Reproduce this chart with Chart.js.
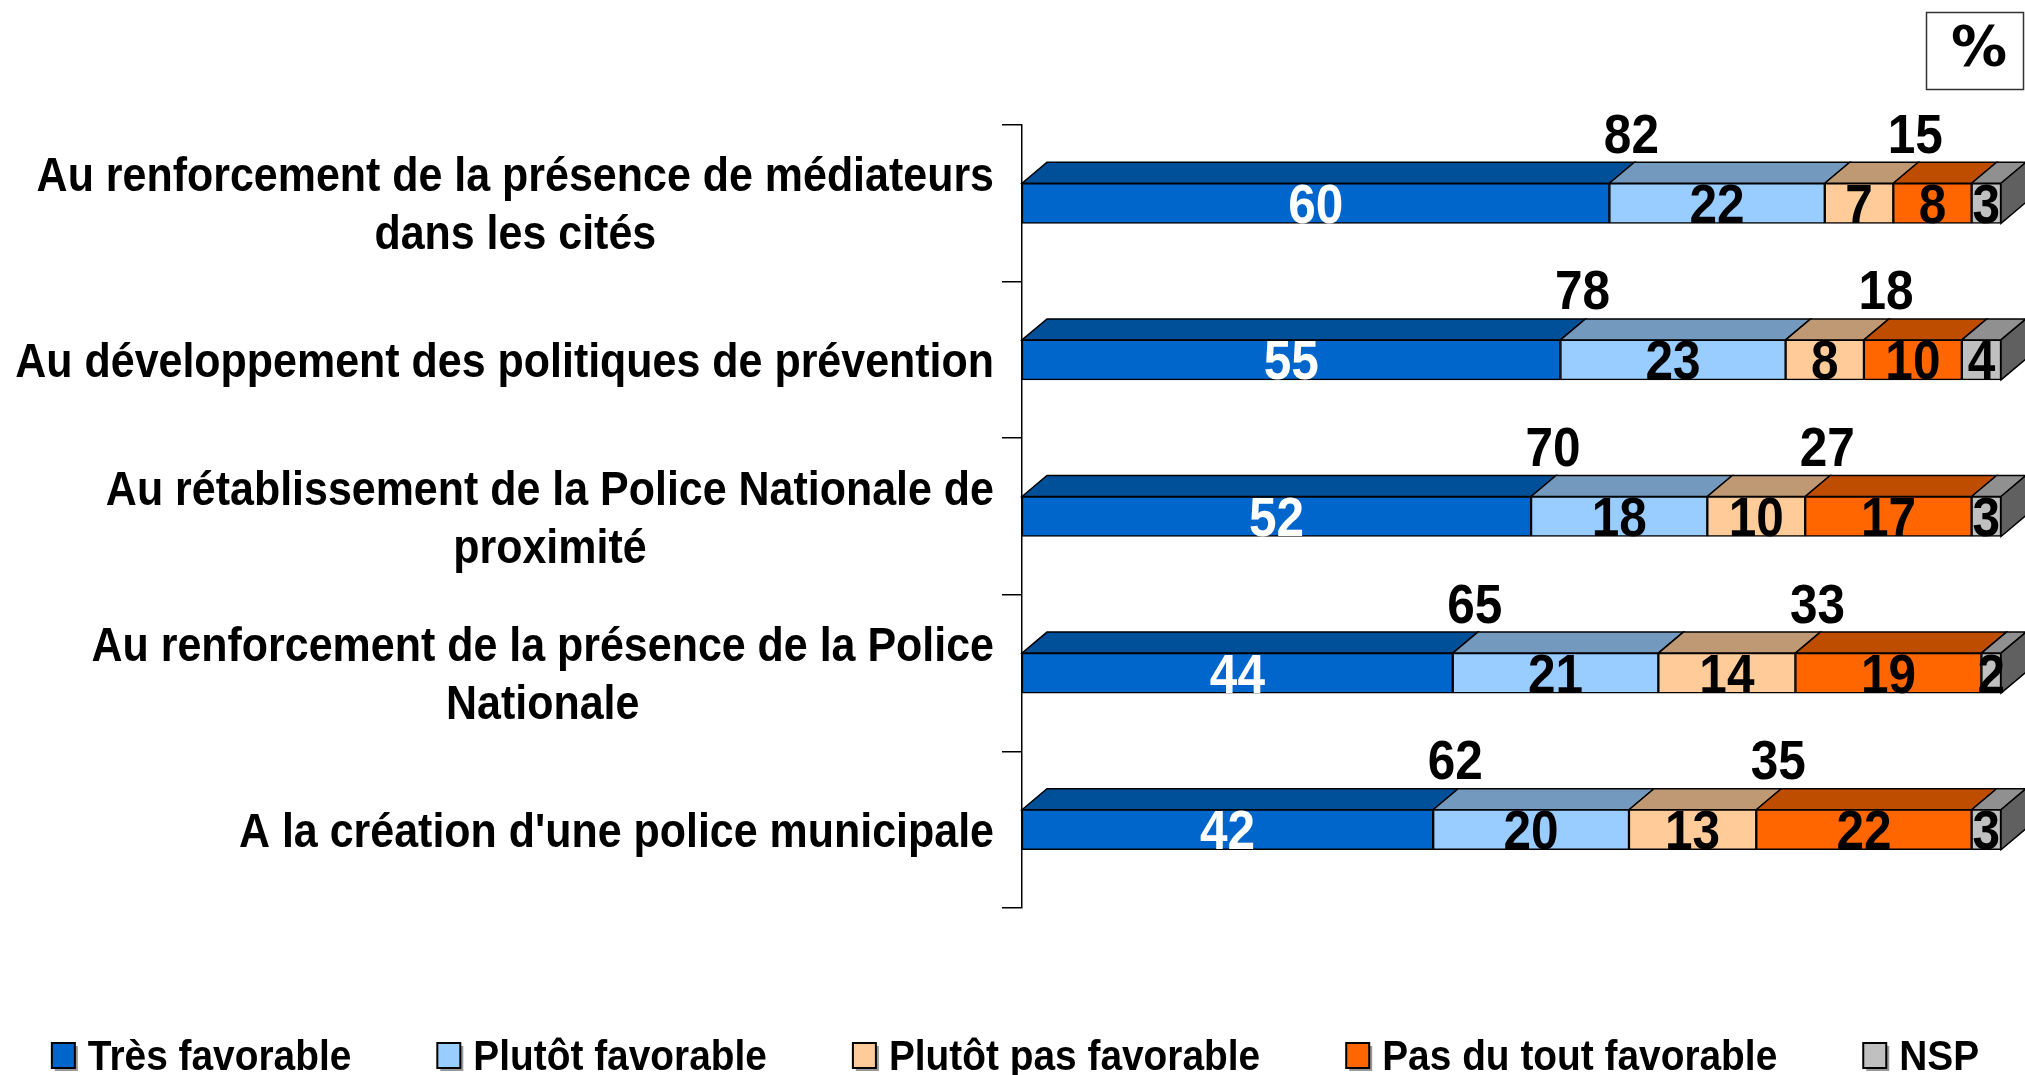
<!DOCTYPE html>
<html lang="fr">
<head>
<meta charset="utf-8">
<title>Favorable ou défavorable</title>
<script src="https://cdn.jsdelivr.net/npm/chart.js@4.4.1/dist/chart.umd.min.js"></script>
<style>
  html, body { margin: 0; padding: 0; background: #fff; }
  #graphique { display: block; }
</style>
</head>
<body>
<canvas id="graphique" width="2025" height="1075"></canvas>
<script>
// Catégories (une ligne par élément du tableau)
const categories = [
  ['Au renforcement de la présence de médiateurs', 'dans les cités'],
  ['Au développement des politiques de prévention'],
  ['Au rétablissement de la Police Nationale de', 'proximité'],
  ['Au renforcement de la présence de la Police', 'Nationale'],
  ["A la création d'une police municipale"]
];

// Séries (%)
const tresFavorable = [60, 55, 52, 44, 42];
const plutotFavorable = [22, 23, 18, 21, 20];
const plutotPasFavorable = [7, 8, 10, 14, 13];
const pasDuToutFavorable = [8, 10, 17, 19, 22];
const nsp = [3, 4, 3, 2, 3];

// Totaux affichés au-dessus des barres
const totalFavorable = [82, 78, 70, 65, 62];
const totalPasFavorable = [15, 18, 27, 33, 35];

const nomsSeries = ['Très favorable', 'Plutôt favorable', 'Plutôt pas favorable', 'Pas du tout favorable', 'NSP'];

// Couleurs : face avant, face du dessus
const couleursFace = ['#0066CC', '#99CCFF', '#FFCC99', '#FF6600', '#C0C0C0'];
const couleursDessus = ['#004F99', '#7399BF', '#BF9973', '#BF4D00', '#909090'];
const couleurCote = '#606060';
const couleursTexte = ['#FFFFFF', '#000000', '#000000', '#000000', '#000000'];

// Profondeur de l'effet 3D
const profX = 25;
const profY = 21;

const police = '"Liberation Sans", Arial, sans-serif';

// Texte avec compression horizontale
function texteEtroit(ctx, txt, x, y, echelle) {
  ctx.save();
  ctx.translate(x, y);
  ctx.scale(echelle, 1);
  ctx.fillText(txt, 0, 0);
  ctx.restore();
}

function rectBarre(bar) {
  const p = bar.getProps(['x', 'y', 'base', 'height'], true);
  return {
    gauche: Math.min(p.x, p.base),
    droite: Math.max(p.x, p.base),
    haut: p.y - p.height / 2,
    bas: p.y + p.height / 2,
    centreY: p.y
  };
}

// Faces du dessus et côté droit
const plugin3D = {
  id: 'plugin3D',
  beforeDatasetsDraw(chart) {
    const ctx = chart.ctx;
    ctx.save();
    ctx.lineWidth = 1.5;
    ctx.strokeStyle = '#000';
    chart.data.datasets.forEach((ds, i) => {
      const meta = chart.getDatasetMeta(i);
      meta.data.forEach((bar) => {
        const r = rectBarre(bar);
        ctx.beginPath();
        ctx.moveTo(r.gauche, r.haut);
        ctx.lineTo(r.gauche + profX, r.haut - profY);
        ctx.lineTo(r.droite + profX, r.haut - profY);
        ctx.lineTo(r.droite, r.haut);
        ctx.closePath();
        ctx.fillStyle = couleursDessus[i];
        ctx.fill();
        ctx.stroke();

        // côté droit seulement pour la dernière série
        if (i === chart.data.datasets.length - 1) {
          ctx.beginPath();
          ctx.moveTo(r.droite, r.haut);
          ctx.lineTo(r.droite + profX, r.haut - profY);
          ctx.lineTo(r.droite + profX, r.bas - profY);
          ctx.lineTo(r.droite, r.bas);
          ctx.closePath();
          ctx.fillStyle = couleurCote;
          ctx.fill();
          ctx.stroke();
        }
      });
    });
    ctx.restore();
  },

  afterDatasetsDraw(chart) {
    const ctx = chart.ctx;
    const echX = chart.scales.x;
    const taille = 55;
    const echNum = 0.9;
    ctx.save();
    ctx.font = 'bold ' + taille + 'px ' + police;
    ctx.textAlign = 'center';
    ctx.textBaseline = 'alphabetic';

    // valeurs dans les segments
    chart.data.datasets.forEach((ds, i) => {
      const meta = chart.getDatasetMeta(i);
      meta.data.forEach((bar, j) => {
        const r = rectBarre(bar);
        ctx.fillStyle = couleursTexte[i];
        texteEtroit(ctx, String(ds.data[j]), (r.gauche + r.droite) / 2, r.centreY + taille * 0.355, echNum);
      });
    });

    // totaux au-dessus
    ctx.fillStyle = '#000';
    const meta0 = chart.getDatasetMeta(0);
    meta0.data.forEach((bar, j) => {
      const y = bar.y - 70 + taille * 0.355;
      const xFav = echX.getPixelForValue(tresFavorable[j]) + 22;
      const cumul = tresFavorable[j] + plutotFavorable[j] + plutotPasFavorable[j];
      const xPas = echX.getPixelForValue(cumul) + 22;
      texteEtroit(ctx, String(totalFavorable[j]), xFav, y, echNum);
      texteEtroit(ctx, String(totalPasFavorable[j]), xPas, y, echNum);
    });
    ctx.restore();
  },

  afterDraw(chart) {
    const ctx = chart.ctx;
    const echY = chart.scales.y;

    // libellés des catégories : bloc aligné à droite, lignes centrées
    const tailleCat = 48;
    const echCat = 0.895;
    const interligne = 58;
    const bordDroit = echY.right - 28;
    ctx.save();
    ctx.font = 'bold ' + tailleCat + 'px ' + police;
    ctx.fillStyle = '#000';
    ctx.textAlign = 'center';
    ctx.textBaseline = 'alphabetic';
    categories.forEach((lignes, j) => {
      const cy = echY.getPixelForValue(j);
      let largeur = 0;
      lignes.forEach((l) => { largeur = Math.max(largeur, ctx.measureText(l).width * echCat); });
      const cx = bordDroit - largeur / 2;
      const y0 = cy - (lignes.length - 1) * interligne / 2;
      lignes.forEach((l, k) => {
        texteEtroit(ctx, l, cx, y0 + k * interligne + tailleCat * 0.358, echCat);
      });
    });
    ctx.restore();

    // légende en bas
    const tailleLeg = 42;
    const echLeg = 0.925;
    const boite = 23;
    const ecartTexte = 13;
    const ecartItems = 86;
    const yLeg = 1055;
    ctx.save();
    ctx.font = 'bold ' + tailleLeg + 'px ' + police;
    const largeursTexte = nomsSeries.map((n) => ctx.measureText(n).width * echLeg);
    const largeurs = largeursTexte.map((w) => boite + ecartTexte + w);
    const total = largeurs.reduce((a, b) => a + b, 0) + ecartItems * (nomsSeries.length - 1);
    let x = (chart.width - total) / 2 + 3;
    nomsSeries.forEach((n, i) => {
      // petite ombre grise
      ctx.fillStyle = '#999';
      ctx.fillRect(x + 3, yLeg - 12 + 3, boite, 25);
      ctx.fillStyle = couleursFace[i];
      ctx.fillRect(x, yLeg - 12, boite, 25);
      ctx.lineWidth = 2;
      ctx.strokeStyle = '#000';
      ctx.strokeRect(x, yLeg - 12, boite, 25);
      ctx.fillStyle = '#000';
      ctx.textAlign = 'left';
      ctx.textBaseline = 'alphabetic';
      texteEtroit(ctx, n, x + boite + ecartTexte, yLeg + tailleLeg * 0.358, echLeg);
      x += largeurs[i] + ecartItems;
    });
    ctx.restore();

    // cadre "%"
    ctx.save();
    ctx.strokeStyle = '#333';
    ctx.lineWidth = 1.5;
    ctx.strokeRect(1926.5, 12.5, 97, 77);
    ctx.fillStyle = '#000';
    ctx.font = 'bold 56px "DejaVu Sans", sans-serif';
    ctx.textAlign = 'center';
    ctx.textBaseline = 'middle';
    ctx.fillText('%', 1979, 50);
    ctx.restore();
  }
};

function serie(label, data, i) {
  return {
    label: label,
    data: data,
    backgroundColor: couleursFace[i],
    borderColor: '#000',
    borderWidth: 1.5,
    borderSkipped: false,
    barThickness: 40
  };
}

const ctx = document.getElementById('graphique').getContext('2d');
const graphique = new Chart(ctx, {
  type: 'bar',
  data: {
    labels: categories,
    datasets: [
      serie(nomsSeries[0], tresFavorable, 0),
      serie(nomsSeries[1], plutotFavorable, 1),
      serie(nomsSeries[2], plutotPasFavorable, 2),
      serie(nomsSeries[3], pasDuToutFavorable, 3),
      serie(nomsSeries[4], nsp, 4)
    ]
  },
  options: {
    indexAxis: 'y',
    responsive: false,
    animation: false,
    layout: { padding: { top: 125, right: 24, bottom: 167, left: 0 } },
    plugins: {
      legend: { display: false },
      tooltip: { enabled: false }
    },
    scales: {
      x: {
        display: false,
        stacked: true,
        min: 0,
        max: 100
      },
      y: {
        stacked: true,
        offset: true,
        grid: {
          offset: true,
          drawOnChartArea: false,
          drawTicks: true,
          tickLength: 20,
          color: '#000',
          lineWidth: 1.5
        },
        border: { display: true, color: '#000', width: 1.5 },
        ticks: { display: false },
        afterFit(scale) { scale.width = 1022; }
      }
    }
  },
  plugins: [plugin3D]
});
</script>
</body>
</html>
